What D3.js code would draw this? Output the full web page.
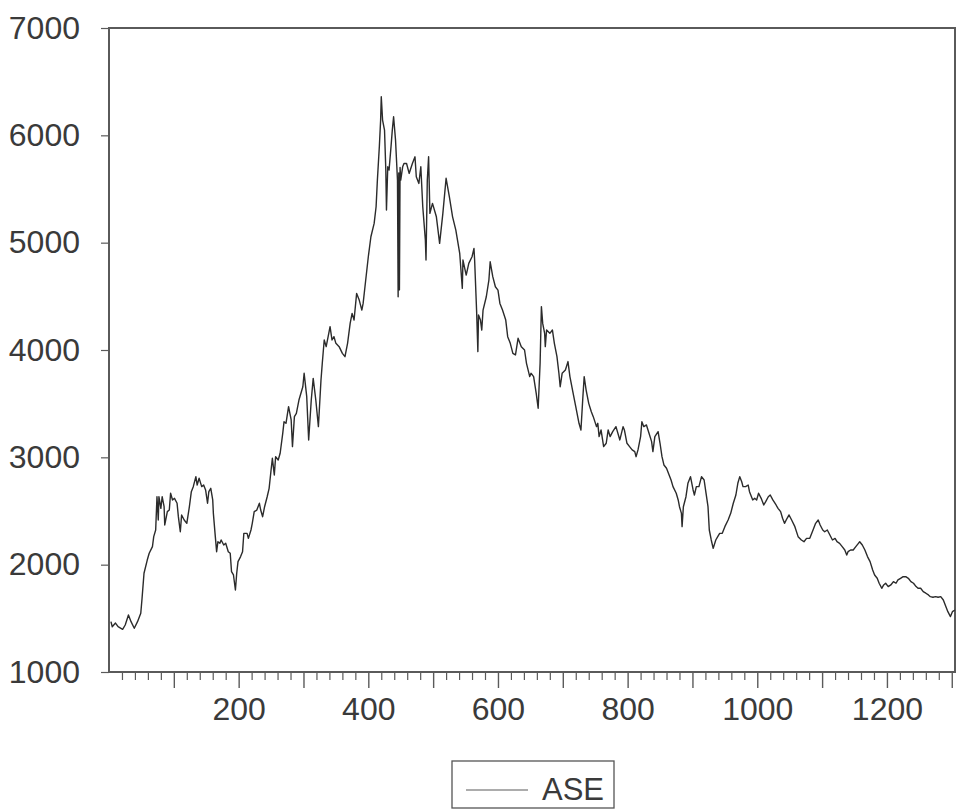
<!DOCTYPE html>
<html>
<head>
<meta charset="utf-8">
<script src="https://cdn.jsdelivr.net/npm/d3@7/dist/d3.min.js"></script>
<style>
  html, body { margin: 0; padding: 0; background: #ffffff; }
  svg { display: block; }
  text { font-family: "Liberation Sans", Arial, sans-serif; fill: #3a3a3a; }
</style>
</head>
<body>
<svg id="chart" width="957" height="810"></svg>
<script>
// Observation numbers and ASE index levels
const obs = [
  3,5,10,14,21,25,30,34,39,44,49,51,54,59,62,67,69,72,74,76,77,80,82,85,86,90,93,95,98,101,
  105,107,110,112,116,120,124,127,130,134,136,139,143,146,149,152,154,157,160,161,164,166,168,171,173,177,180,184,187,189,
  192,195,197,199,203,206,208,213,215,219,221,224,228,232,234,237,240,244,247,250,252,255,257,261,264,268,270,273,277,281,
  283,286,289,293,299,301,305,308,312,315,319,323,327,329,332,335,339,341,344,347,350,355,360,364,368,372,375,378,382,386,
  390,392,396,400,404,409,412,414,417,419,420,422,425,427,428,430,432,435,437,439,442,444,445,446,447,448,449,450,453,455,459,463,
  468,472,474,478,481,484,488,489,491,493,495,499,505,510,515,520,525,530,535,541,545,546,551,555,560,563,564,567,569,570,
  573,575,577,582,586,588,592,596,600,603,607,612,615,619,623,627,631,636,641,644,649,651,655,659,662,665,667,669,672,673,
  675,680,684,687,691,694,696,699,704,708,711,715,720,725,728,731,733,736,740,744,747,752,754,756,759,763,767,770,773,777,
  782,788,793,795,799,803,807,811,813,816,820,822,825,829,833,837,839,842,847,850,853,856,860,864,867,870,875,878,880,883,
  884,886,890,893,897,901,903,906,910,914,918,921,924,926,929,932,936,939,942,946,950,955,959,963,967,970,973,976,978,982,
  986,988,993,996,999,1002,1006,1010,1013,1017,1020,1024,1029,1032,1036,1039,1042,1046,1049,1053,1058,1063,1068,1072,1076,1081,1086,1090,1094,1097,
  1101,1104,1108,1112,1116,1120,1123,1127,1131,1135,1138,1140,1144,1148,1152,1156,1158,1162,1166,1170,1174,1178,1181,1185,1188,1192,1195,1198,1202,1206,
  1210,1214,1217,1221,1225,1229,1233,1237,1241,1245,1248,1252,1256,1260,1264,1267,1271,1275,1279,1283,1287,1291,1294,1298,1301,1305
];
const ase = [
  1469,1422,1456,1422,1398,1438,1531,1469,1407,1469,1547,1687,1920,2043,2106,2168,2261,2323,2633,2416,2633,2525,2633,2540,2370,2494,2509,2665,2603,2618,
  2572,2447,2307,2463,2416,2385,2540,2680,2727,2820,2742,2805,2727,2742,2696,2572,2680,2711,2603,2478,2261,2121,2214,2199,2230,2183,2199,2121,2106,1935,
  1904,1764,1920,2028,2075,2121,2292,2292,2245,2323,2385,2494,2509,2572,2509,2447,2540,2633,2711,2882,2991,2836,3006,2975,3038,3224,3332,3317,3472,3348,
  3100,3379,3410,3534,3658,3783,3565,3162,3534,3736,3534,3286,3721,3876,4093,4031,4155,4217,4093,4124,4062,4031,3969,3938,4062,4248,4341,4279,4527,4465,
  4372,4434,4652,4869,5055,5179,5335,5583,5893,6142,6359,6142,6049,5676,5304,5707,5676,5893,6049,6173,5955,5707,5583,4496,5650,4560,5700,5583,5707,5738,5738,5645,
  5738,5800,5614,5552,5707,5335,5024,4838,5583,5800,5273,5366,5241,4993,5273,5600,5428,5241,5117,4900,4574,4838,4698,4807,4869,4946,4838,4372,3985,4326,
  4279,4186,4372,4496,4652,4822,4683,4589,4558,4434,4372,4279,4124,4062,3969,3954,4109,4031,4000,3876,3752,3783,3752,3596,3457,3876,4404,4248,4155,4031,
  4186,4155,4186,4062,3938,3783,3658,3783,3814,3892,3752,3627,3472,3317,3255,3565,3752,3627,3503,3425,3379,3286,3317,3193,3255,3100,3131,3255,3193,3240,
  3286,3162,3286,3255,3131,3100,3069,3053,3006,3069,3193,3332,3286,3302,3224,3146,3053,3193,3239,3131,3006,2929,2898,2836,2789,2727,2665,2603,2540,2478,
  2354,2540,2633,2758,2820,2696,2649,2727,2727,2820,2789,2665,2540,2323,2230,2152,2230,2261,2292,2292,2354,2416,2478,2572,2649,2758,2820,2773,2727,2727,
  2742,2680,2603,2618,2603,2665,2618,2556,2587,2633,2649,2603,2556,2525,2494,2432,2385,2432,2463,2416,2354,2261,2230,2214,2245,2245,2323,2385,2416,2370,
  2323,2307,2323,2276,2230,2245,2214,2199,2168,2137,2090,2121,2137,2137,2168,2199,2214,2183,2137,2075,2028,1950,1904,1873,1827,1780,1811,1827,1796,1811,
  1842,1827,1858,1873,1888,1888,1873,1842,1827,1796,1780,1780,1749,1734,1718,1702,1696,1702,1696,1702,1671,1609,1562,1516,1562,1578
];
const yTicks = [1000, 2000, 3000, 4000, 5000, 6000, 7000];
const xLabelTicks = [200, 400, 600, 800, 1000, 1200];
const seriesName = "ASE";

const svg = d3.select("#chart");
const x = d3.scaleLinear().domain([0, 1305]).range([109, 955]);
const y = d3.scaleLinear().domain([1000, 7000]).range([672, 28]);
const axisColor = "#5a5a5a";

// Y axis ticks and labels
const gy = svg.append("g").attr("transform", `translate(${x(0)},0)`)
  .call(d3.axisLeft(y).tickValues(yTicks).tickSize(8).tickPadding(21).tickFormat(d3.format("d")));
gy.select(".domain").remove();
gy.selectAll(".tick line").attr("stroke", axisColor).attr("stroke-width", 1.2);
gy.selectAll(".tick text").style("font-size", "32px").attr("fill", "#3a3a3a")
  .attr("font-family", null);

// X axis: minor ticks every 20, longer ticks every 100, labels every 200
const gxMinor = svg.append("g").attr("transform", `translate(0,${y(1000)})`)
  .call(d3.axisBottom(x).tickValues(d3.range(20, 1301, 20).filter(d => d % 100 !== 0))
    .tickSize(8).tickFormat(""));
gxMinor.select(".domain").remove();
gxMinor.selectAll(".tick line").attr("stroke", axisColor).attr("stroke-width", 1.2);

const gxMajor = svg.append("g").attr("transform", `translate(0,${y(1000)})`)
  .call(d3.axisBottom(x).tickValues(d3.range(100, 1301, 100)).tickSize(16).tickPadding(9)
    .tickFormat(d => xLabelTicks.includes(d) ? d3.format("d")(d) : ""));
gxMajor.select(".domain").remove();
gxMajor.selectAll(".tick line").attr("stroke", axisColor).attr("stroke-width", 1.4);
gxMajor.selectAll(".tick text").style("font-size", "32px").attr("fill", "#3a3a3a")
  .attr("font-family", null);

// Plot frame
svg.append("rect")
  .attr("x", x(0)).attr("y", y(7000))
  .attr("width", x(1305) - x(0)).attr("height", y(1000) - y(7000))
  .attr("fill", "none").attr("stroke", axisColor).attr("stroke-width", 2);

// Series line
const points = obs.map((t, i) => [t, ase[i]]);
svg.append("path")
  .datum(points)
  .attr("fill", "none")
  .attr("stroke", "#2b2b2b")
  .attr("stroke-width", 1.4)
  .attr("stroke-linejoin", "round")
  .attr("d", d3.line().x(d => x(d[0])).y(d => y(d[1])));

// Legend
const lg = svg.append("g");
lg.append("rect").attr("x", 452).attr("y", 761).attr("width", 162).attr("height", 47)
  .attr("fill", "#ffffff").attr("stroke", "#555555").attr("stroke-width", 1.3);
lg.append("line").attr("x1", 466).attr("x2", 528).attr("y1", 790).attr("y2", 790)
  .attr("stroke", "#5a5a5a").attr("stroke-width", 1.2);
lg.append("text").attr("x", 542).attr("y", 800).style("font-size", "31px").text(seriesName);
</script>
</body>
</html>
